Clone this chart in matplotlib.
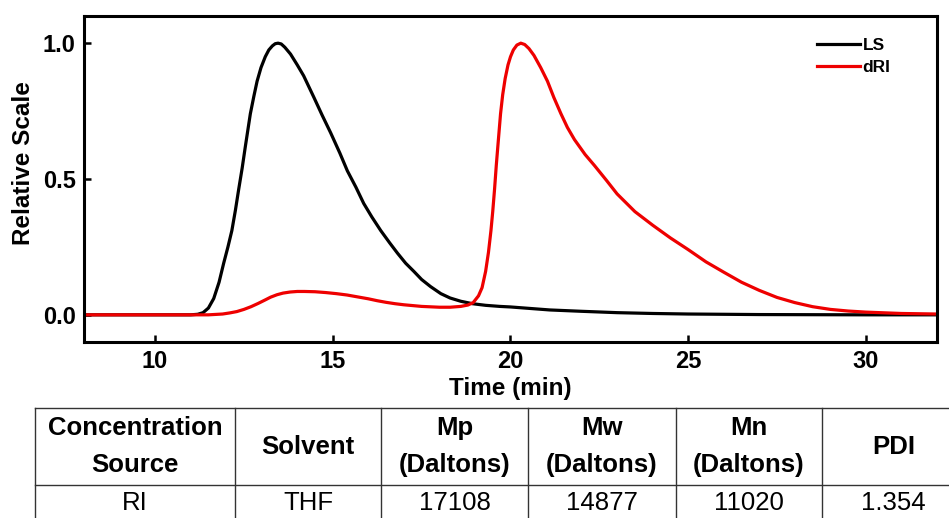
import numpy as np
import matplotlib
matplotlib.use("Agg")
import matplotlib.pyplot as plt
from matplotlib.lines import Line2D

plt.rcParams["font.family"] = ["Liberation Sans", "DejaVu Sans"]

# LS trace (time in min, relative scale)
ls_time = [8.0, 11.0, 11.2, 11.35, 11.5, 11.65, 11.8, 11.93, 12.05, 12.16, 12.26,
           12.35, 12.45, 12.54, 12.61, 12.68, 12.78, 12.87, 12.98, 13.1, 13.2,
           13.3, 13.38, 13.46, 13.55, 13.65, 13.81, 14.0, 14.18, 14.47, 14.7,
           14.94, 15.2, 15.41, 15.65, 15.87, 16.1, 16.35, 16.6, 16.82, 17.05,
           17.28, 17.5, 17.75, 18.04, 18.3, 18.6, 18.93, 19.3, 19.7, 20.0,
           20.5, 21.1, 22.0, 23.0, 24.0, 25.0, 27.0, 30.0, 32.0]
ls_signal = [0.0, 0.0, 0.002, 0.008, 0.025, 0.06, 0.12, 0.19, 0.25, 0.31, 0.385,
             0.46, 0.54, 0.62, 0.68, 0.74, 0.805, 0.86, 0.91, 0.95, 0.975,
             0.99, 0.998, 1.0, 0.997, 0.985, 0.96, 0.92, 0.88, 0.80, 0.735,
             0.67, 0.595, 0.53, 0.47, 0.41, 0.36, 0.31, 0.265, 0.227, 0.19,
             0.16, 0.13, 0.104, 0.078, 0.062, 0.05, 0.041, 0.035, 0.031, 0.029,
             0.024, 0.018, 0.013, 0.008, 0.005, 0.003, 0.001, 0.0, 0.0]

# dRI trace
dri_time = [8.0, 11.5, 11.9, 12.1, 12.3, 12.5, 12.7, 12.9, 13.1, 13.25, 13.43,
            13.6, 13.8, 14.0, 14.2, 14.5, 14.8, 15.1, 15.4, 15.7, 16.0, 16.25,
            16.5, 16.75, 17.0, 17.5, 18.0, 18.3, 18.6, 18.8, 18.95, 19.1, 19.2,
            19.3, 19.38, 19.45, 19.5, 19.55, 19.6, 19.65, 19.72, 19.78, 19.85,
            19.93, 20.0, 20.08, 20.18, 20.29, 20.4, 20.52, 20.66, 20.85, 21.04,
            21.22, 21.42, 21.6, 21.8, 22.1, 22.36, 22.7, 23.0, 23.5, 24.0, 24.5,
            25.0, 25.5, 26.0, 26.5, 27.0, 27.5, 28.0, 28.5, 29.0, 29.5, 30.0,
            31.0, 32.0]
dri_signal = [0.0, 0.0, 0.003, 0.007, 0.012, 0.02, 0.03, 0.042, 0.055, 0.065, 0.074,
              0.08, 0.084, 0.086, 0.086, 0.085, 0.082, 0.078, 0.073, 0.066, 0.059, 0.052,
              0.046, 0.041, 0.037, 0.031, 0.028, 0.028, 0.031, 0.036, 0.045, 0.07, 0.1,
              0.16, 0.23, 0.31, 0.38, 0.46, 0.55, 0.63, 0.74, 0.81, 0.87,
              0.92, 0.95, 0.975, 0.993, 1.0, 0.995, 0.98, 0.955, 0.91, 0.86,
              0.80, 0.74, 0.69, 0.645, 0.59, 0.55, 0.495, 0.445, 0.38, 0.33, 0.283,
              0.24, 0.195, 0.157, 0.12, 0.09, 0.064, 0.045, 0.03, 0.02, 0.014, 0.01,
              0.005, 0.003]

x_ticks = [10, 15, 20, 25, 30]
y_ticks = [0.0, 0.5, 1.0]

# table below the plot
table_header = ["Concentration\nSource", "Solvent", "Mp\n(Daltons)",
                "Mw\n(Daltons)", "Mn\n(Daltons)", "PDI"]
table_row = ["RI", "THF", "17108", "14877", "11020", "1.354"]

W, H = 949, 518
fig = plt.figure(figsize=(W / 100, H / 100), dpi=100)
ax = fig.add_axes([84 / W, 1 - 342 / H, (937 - 84) / W, (342 - 16) / H])

ax.plot(ls_time, ls_signal, color="black", lw=2.3, label="LS",
        solid_joinstyle="round")
ax.plot(dri_time, dri_signal, color="#ee0000", lw=2.3, label="dRI",
        solid_joinstyle="round")

ax.set_xlim(8, 32)
ax.set_ylim(-0.1, 1.1)
ax.set_xticks(x_ticks)
ax.set_yticks(y_ticks)
ax.set_yticklabels([f"{v:.1f}" for v in y_ticks])
ax.tick_params(direction="in", length=5, width=1.8, labelsize=17, pad=6)
for lab in ax.get_xticklabels() + ax.get_yticklabels():
    lab.set_fontweight("bold")
for s in ax.spines.values():
    s.set_linewidth(2.2)

ax.set_xlabel("Time (min)", fontsize=17.5, fontweight="bold", labelpad=3)
ax.set_ylabel("Relative Scale", fontsize=17.5, fontweight="bold")
ax.yaxis.set_label_coords(-0.057, 0.55)

leg = ax.legend(loc="upper left", bbox_to_anchor=(808 / W, 1 - 29 / H),
                bbox_transform=fig.transFigure, frameon=False, borderpad=0,
                handlelength=2.5, handletextpad=0.15, labelspacing=0.4,
                prop={"weight": "bold", "size": 12.5})

# table grid
col_x = [35, 235, 381, 528, 676, 822, 965]
row_y = [408, 485, 522]
for y in row_y:
    fig.add_artist(Line2D([col_x[0] / W, col_x[-1] / W], [1 - y / H, 1 - y / H],
                          transform=fig.transFigure, color="#333333", lw=1))
for x in col_x:
    fig.add_artist(Line2D([x / W, x / W], [1 - row_y[0] / H, 1 - row_y[-1] / H],
                          transform=fig.transFigure, color="#333333", lw=1))

for i in range(len(table_header)):
    cx = (col_x[i] + col_x[i + 1]) / 2 / W
    lines = table_header[i].split("\n")
    if len(lines) == 1:
        fig.text(cx, 1 - 447 / H, lines[0], ha="center", va="center",
                 fontsize=18.5, fontweight="bold")
    else:
        fig.text(cx, 1 - 428 / H, lines[0], ha="center", va="center",
                 fontsize=18.5, fontweight="bold")
        fig.text(cx, 1 - 465 / H, lines[1], ha="center", va="center",
                 fontsize=18.5, fontweight="bold")
    fig.text(cx, 1 - 503 / H, table_row[i], ha="center", va="center", fontsize=18.5)

fig.savefig("out.png", dpi=100)
